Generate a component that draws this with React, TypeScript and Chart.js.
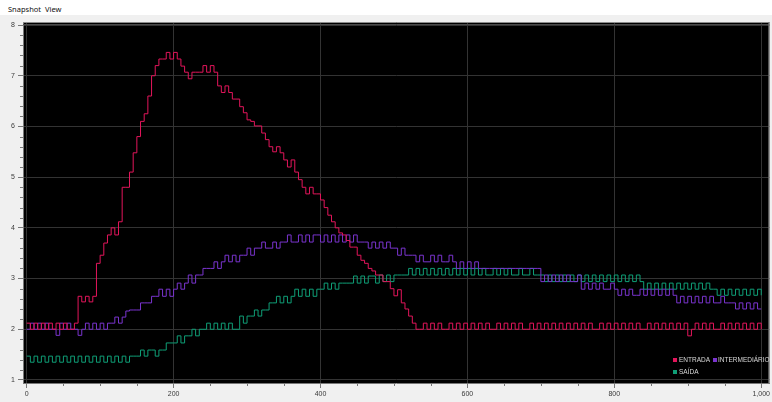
import React, { useEffect, useRef } from 'react';
import { Chart, registerables } from 'chart.js';

Chart.register(...registerables);

// sample spacing of the series below (x units)
const SAMPLE_INTERVAL = 5;

// ENTRADA, x = 0 .. 1000 every 5 units (rows of 20 = 100 units)
const ENTRADA: number[] = [
  2.12, 2.0, 2.12, 2.0, 2.12, 2.0, 2.12, 2.0, 2.12, 2.0, 2.12, 2.0, 2.0, 2.12, 2.65, 2.54, 2.65, 2.54, 2.65, 3.3,
  3.46, 3.7, 3.86, 4.0, 3.86, 4.12, 4.8, 4.8, 5.1, 5.48, 5.8, 6.1, 6.25, 6.6, 7.0, 7.2, 7.33, 7.33, 7.46, 7.33,
  7.46, 7.33, 7.19, 7.07, 6.94, 7.07, 7.07, 7.07, 7.2, 7.07, 7.2, 7.07, 6.8, 6.67, 6.8, 6.67, 6.54, 6.54, 6.39, 6.27,
  6.13, 6.1, 6.01, 6.01, 5.87, 5.74, 5.6, 5.5, 5.6, 5.48, 5.34, 5.2, 5.34, 5.1, 4.95, 4.8, 4.67, 4.8, 4.67, 4.67,
  4.55, 4.4, 4.25, 4.12, 4.0, 3.9, 3.86, 3.75, 3.62, 3.62, 3.46, 3.36, 3.3, 3.2, 3.15, 3.07, 3.07, 2.94, 2.94, 2.8,
  2.66, 2.78, 2.52, 2.4, 2.26, 2.12, 2.0, 2.0, 2.12, 2.0, 2.12, 2.0, 2.12, 2.0, 2.0, 2.12, 2.0, 2.12, 2.0, 2.12,
  2.0, 2.12, 2.0, 2.12, 2.0, 2.12, 2.0, 2.0, 2.12, 2.0, 2.12, 2.0, 2.12, 2.0, 2.12, 2.0, 2.0, 2.12, 2.0, 2.12,
  2.0, 2.12, 2.0, 2.12, 2.0, 2.12, 2.0, 2.12, 2.0, 2.12, 2.0, 2.12, 2.0, 2.12, 2.0, 2.0, 2.12, 2.0, 2.12, 2.0,
  2.12, 2.0, 2.12, 2.0, 2.12, 2.0, 2.12, 2.0, 2.0, 2.12, 2.0, 2.12, 2.0, 2.12, 2.0, 2.12, 2.0, 2.12, 2.0, 2.12,
  1.87, 2.0, 2.12, 2.0, 2.12, 2.0, 2.12, 2.0, 2.0, 2.12, 2.0, 2.12, 2.0, 2.12, 2.0, 2.12, 2.0, 2.12, 2.0, 2.12,
  2.0,
];

const INTERMEDIARIO: number[] = [
  2.0, 2.12, 2.0, 2.12, 2.0, 2.12, 2.0, 2.0, 1.88, 2.12, 2.0, 2.12, 2.0, 2.0, 1.88, 2.0, 2.12, 2.0, 2.12, 2.0,
  2.12, 2.0, 2.12, 2.12, 2.24, 2.12, 2.24, 2.36, 2.38, 2.38, 2.38, 2.52, 2.52, 2.52, 2.65, 2.65, 2.79, 2.65, 2.79, 2.65,
  2.79, 2.91, 2.79, 2.91, 3.07, 2.91, 3.07, 3.07, 3.2, 3.2, 3.2, 3.33, 3.2, 3.33, 3.46, 3.33, 3.46, 3.33, 3.46, 3.46,
  3.6, 3.46, 3.6, 3.6, 3.72, 3.6, 3.6, 3.72, 3.6, 3.72, 3.72, 3.86, 3.72, 3.72, 3.86, 3.72, 3.86, 3.72, 3.86, 3.86,
  3.72, 3.86, 3.72, 3.86, 3.72, 3.86, 3.72, 3.86, 3.72, 3.86, 3.72, 3.72, 3.72, 3.6, 3.72, 3.6, 3.72, 3.6, 3.72, 3.6,
  3.6, 3.46, 3.6, 3.46, 3.46, 3.46, 3.33, 3.46, 3.33, 3.33, 3.46, 3.33, 3.46, 3.33, 3.33, 3.46, 3.33, 3.2, 3.33, 3.2,
  3.33, 3.2, 3.33, 3.2, 3.2, 3.2, 3.2, 3.2, 3.2, 3.2, 3.2, 3.2, 3.2, 3.2, 3.2, 3.2, 3.2, 3.2, 3.2, 3.2,
  2.94, 3.07, 2.94, 3.07, 2.94, 3.07, 2.94, 3.07, 2.94, 2.94, 3.07, 2.79, 2.91, 2.79, 2.91, 2.79, 2.91, 2.79, 2.79, 2.91,
  2.79, 2.67, 2.79, 2.67, 2.79, 2.67, 2.67, 2.79, 2.67, 2.79, 2.67, 2.79, 2.67, 2.79, 2.67, 2.79, 2.67, 2.52, 2.65, 2.52,
  2.65, 2.52, 2.65, 2.52, 2.65, 2.52, 2.65, 2.52, 2.52, 2.65, 2.52, 2.52, 2.52, 2.4, 2.52, 2.4, 2.52, 2.4, 2.52, 2.4,
  2.4,
];

const SAIDA: number[] = [
  1.47, 1.35, 1.47, 1.35, 1.47, 1.35, 1.47, 1.35, 1.47, 1.35, 1.47, 1.35, 1.47, 1.35, 1.47, 1.35, 1.47, 1.35, 1.47, 1.35,
  1.47, 1.35, 1.47, 1.35, 1.47, 1.35, 1.47, 1.35, 1.47, 1.47, 1.47, 1.59, 1.47, 1.59, 1.59, 1.47, 1.59, 1.59, 1.73, 1.73,
  1.73, 1.87, 1.73, 1.87, 1.87, 2.0, 1.87, 2.0, 2.0, 2.12, 2.0, 2.12, 2.0, 2.12, 2.0, 2.12, 2.0, 2.0, 2.26, 2.12,
  2.26, 2.26, 2.38, 2.26, 2.38, 2.38, 2.52, 2.52, 2.65, 2.52, 2.65, 2.52, 2.65, 2.79, 2.65, 2.79, 2.65, 2.79, 2.65, 2.79,
  2.79, 2.91, 2.79, 2.91, 2.79, 2.91, 2.91, 2.91, 2.91, 3.05, 2.91, 3.05, 2.91, 3.05, 3.05, 2.91, 3.07, 2.94, 3.07, 2.94,
  3.07, 3.07, 3.07, 3.07, 3.2, 3.07, 3.2, 3.07, 3.2, 3.07, 3.2, 3.07, 3.2, 3.07, 3.2, 3.07, 3.2, 3.07, 3.2, 3.07,
  3.2, 3.07, 3.2, 3.07, 3.2, 3.07, 3.07, 3.2, 3.07, 3.2, 3.07, 3.2, 3.07, 3.07, 3.2, 3.07, 3.07, 3.2, 3.07, 3.07,
  3.07, 2.94, 3.07, 2.94, 3.07, 2.94, 3.07, 2.94, 3.07, 2.94, 3.07, 2.94, 3.07, 2.94, 3.07, 2.94, 3.07, 2.94, 3.07, 2.94,
  3.07, 2.94, 3.07, 2.94, 3.07, 2.94, 3.07, 2.94, 2.79, 2.91, 2.79, 2.91, 2.79, 2.91, 2.79, 2.91, 2.79, 2.91, 2.79, 2.91,
  2.79, 2.91, 2.79, 2.91, 2.79, 2.91, 2.79, 2.79, 2.67, 2.79, 2.67, 2.79, 2.67, 2.79, 2.67, 2.79, 2.67, 2.79, 2.67, 2.79,
  2.67,
];

const SERIES_LABELS = ['ENTRADA', 'INTERMEDIÁRIO', 'SAÍDA'];
const SERIES_COLORS = ['#e3155b', '#7a34cf', '#0f9f77'];

const X_TICKS = [0, 200, 400, 600, 800, 1000];
const Y_TICKS = [1, 2, 3, 4, 5, 6, 7, 8];
const X_MINOR_STEP = 50;
const Y_MINOR_STEP = 0.2;

const MENU_ITEMS = ['Snapshot', 'View'];

const toPoints = (vals: number[]) => vals.map((y, i) => ({ x: i * SAMPLE_INTERVAL, y }));

const TICK_FONT = { family: '"Liberation Sans", Arial, sans-serif', size: 7 };

const plotBackground = {
  id: 'plotBackground',
  beforeDraw(chart: any) {
    const { ctx, chartArea: a } = chart;
    ctx.save();
    ctx.fillStyle = '#000';
    ctx.fillRect(a.left, a.top, a.right - a.left, a.bottom - a.top);
    ctx.restore();
  },
  afterDraw(chart: any) {
    const { ctx, chartArea: a, scales } = chart;
    ctx.save();
    // frame lines at top
    ctx.strokeStyle = '#8c8c8c';
    ctx.lineWidth = 1;
    ctx.beginPath();
    ctx.moveTo(a.left, a.top + 0.5);
    ctx.lineTo(a.right, a.top + 0.5);
    ctx.stroke();
    ctx.strokeStyle = '#4a4a4a';
    ctx.beginPath();
    ctx.moveTo(a.left, a.top + 2.5);
    ctx.lineTo(a.right, a.top + 2.5);
    ctx.stroke();
    ctx.strokeStyle = '#777';
    ctx.beginPath();
    ctx.moveTo(a.right - 0.5, a.top);
    ctx.lineTo(a.right - 0.5, a.bottom);
    ctx.stroke();
    // minor ticks
    ctx.strokeStyle = '#777';
    ctx.beginPath();
    const ys = scales.y;
    for (let v = ys.min; v <= ys.max; v += 0.001) {
      break;
    }
    const yStart = Math.ceil(ys.min / Y_MINOR_STEP) * Y_MINOR_STEP;
    for (let k = 0; yStart + k * Y_MINOR_STEP <= ys.max; k++) {
      const v = yStart + k * Y_MINOR_STEP;
      if (Math.abs(v - Math.round(v)) < 1e-6) continue;
      const py = Math.round(ys.getPixelForValue(v)) + 0.5;
      ctx.moveTo(a.left - 3, py);
      ctx.lineTo(a.left, py);
    }
    const xs = scales.x;
    const xStart = Math.ceil(xs.min / X_MINOR_STEP) * X_MINOR_STEP;
    for (let v = xStart; v <= xs.max; v += X_MINOR_STEP) {
      if (X_TICKS.includes(v)) continue;
      const px = Math.round(xs.getPixelForValue(v)) + 0.5;
      ctx.moveTo(px, a.bottom);
      ctx.lineTo(px, a.bottom + 3);
    }
    ctx.stroke();
    ctx.restore();
  },
};

export default function App() {
  const canvasRef = useRef<HTMLCanvasElement | null>(null);

  useEffect(() => {
    const canvas = canvasRef.current;
    if (!canvas) return;
    const seriesValues = [ENTRADA, INTERMEDIARIO, SAIDA];
    const chart = new Chart(canvas, {
      type: 'line',
      data: {
        datasets: seriesValues.map((vals, i) => ({
          label: SERIES_LABELS[i],
          data: toPoints(vals),
          borderColor: SERIES_COLORS[i],
          backgroundColor: SERIES_COLORS[i],
          borderWidth: 1,
          pointRadius: 0,
          stepped: true,
          fill: false,
        })),
      },
      options: {
        animation: false,
        responsive: false,
        devicePixelRatio: 1,
        layout: { padding: { top: 22, right: 1, left: 0, bottom: 0 } },
        plugins: { legend: { display: false }, tooltip: { enabled: false } },
        scales: {
          x: {
            type: 'linear',
            min: -5,
            max: 1011,
            afterBuildTicks: (s: any) => {
              s.ticks = X_TICKS.map((v) => ({ value: v }));
            },
            afterFit: (s: any) => {
              s.height = 19;
            },
            ticks: {
              autoSkip: false,
              maxRotation: 0,
              padding: 2,
              color: '#3a3a3a',
              font: TICK_FONT,
              callback: (v: any) => Number(v).toLocaleString('en-US'),
            },
            grid: { color: '#333333', tickColor: '#777', tickLength: 5, lineWidth: 1 },
            border: { color: '#777', width: 1 },
          },
          y: {
            type: 'linear',
            min: 0.94,
            max: 8.06,
            afterBuildTicks: (s: any) => {
              s.ticks = Y_TICKS.map((v) => ({ value: v }));
            },
            afterFit: (s: any) => {
              s.width = 23;
            },
            ticks: {
              autoSkip: false,
              padding: 3,
              color: '#3a3a3a',
              font: TICK_FONT,
              callback: (v: any) => String(v),
            },
            grid: { color: '#333333', tickColor: '#777', tickLength: 5, lineWidth: 1 },
            border: { color: '#777', width: 1 },
          },
        },
      },
      plugins: [plotBackground],
    });
    return () => chart.destroy();
  }, []);

  const legendText: React.CSSProperties = {
    position: 'absolute',
    fontFamily: '"Liberation Sans Narrow", "Liberation Sans", Arial, sans-serif',
    fontSize: '6.5px',
    lineHeight: '8px',
    color: '#d8d8d8',
    whiteSpace: 'nowrap',
  };
  const sq = (left: number, top: number, color: string): React.CSSProperties => ({
    position: 'absolute',
    left,
    top,
    width: 4,
    height: 4,
    background: color,
  });

  return (
    <div
      style={{
        position: 'fixed',
        left: 0,
        top: 0,
        width: 772,
        height: 402,
        background: '#f0f0f0',
        overflow: 'hidden',
      }}
    >
      <div
        style={{
          position: 'absolute',
          left: 0,
          top: 0,
          width: 772,
          height: 15,
          background: '#ffffff',
          fontFamily: '"Noto Sans", "Liberation Sans", sans-serif',
          fontSize: '7.5px',
          lineHeight: '15px',
          color: '#111',
        }}
      >
        <span style={{ position: 'absolute', left: 8, top: 2 }}>{MENU_ITEMS[0]}</span>
        <span style={{ position: 'absolute', left: 45, top: 2 }}>{MENU_ITEMS[1]}</span>
      </div>
      <canvas
        ref={canvasRef}
        width={772}
        height={402}
        style={{ position: 'absolute', left: 0, top: 0, width: 772, height: 402 }}
      />
      <div style={sq(673, 358, SERIES_COLORS[0])} />
      <span style={{ ...legendText, left: 679, top: 356 }}>{SERIES_LABELS[0]}</span>
      <div style={sq(713, 358, SERIES_COLORS[1])} />
      <span style={{ ...legendText, left: 718, top: 356 }}>{SERIES_LABELS[1]}</span>
      <div style={sq(673, 370, SERIES_COLORS[2])} />
      <span style={{ ...legendText, left: 679, top: 368 }}>{SERIES_LABELS[2]}</span>
    </div>
  );
}
